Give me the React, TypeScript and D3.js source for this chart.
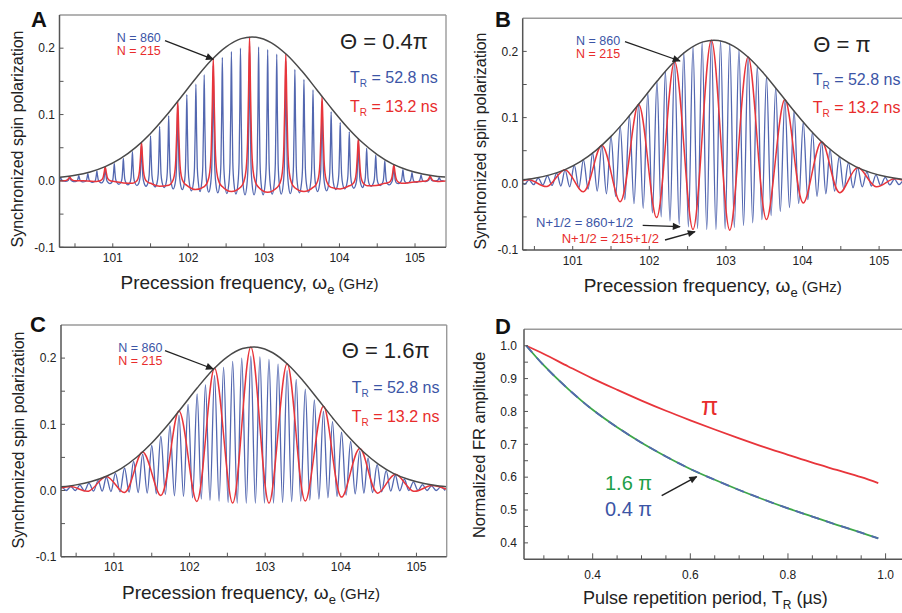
import React from "react";
import * as d3 from "d3";

// ---------------- data ----------------
const freqTickLabels = [101, 102, 103, 104, 105];
const freqTicks = [100.5, 101, 101.5, 102, 102.5, 103, 103.5, 104, 104.5, 105];
const polTickLabels = [-0.1, 0.0, 0.1, 0.2];
const polTicks = [-0.1, -0.05, 0, 0.05, 0.1, 0.15, 0.2];

const envelopeFreq = [100.3, 100.5, 100.7, 100.9, 101.1, 101.3, 101.5, 101.7, 101.9, 102.1, 102.3, 102.5, 102.7, 102.9, 103.1, 103.3, 103.5, 103.7, 103.9, 104.1, 104.3, 104.5, 104.7, 104.9, 105.1, 105.3, 105.4];
const envelopeVal = [0.0055, 0.0085, 0.0135, 0.0215, 0.0335, 0.0502, 0.0716, 0.0973, 0.1258, 0.1548, 0.1813, 0.202, 0.2144, 0.2165, 0.2081, 0.1904, 0.1659, 0.1375, 0.1085, 0.0814, 0.0582, 0.0396, 0.0256, 0.0165, 0.0105, 0.0068, 0.0058];

// N = 860 (T_R = 52.8 ns) comb
const bluePeakFreq = [100.31, 100.43, 100.55, 100.67, 100.79, 100.9, 101.02, 101.14, 101.26, 101.38, 101.5, 101.62, 101.74, 101.86, 101.98, 102.1, 102.21, 102.33, 102.45, 102.57, 102.69, 102.81, 102.93, 103.05, 103.17, 103.29, 103.41, 103.53, 103.65, 103.77, 103.89, 104.01, 104.13, 104.25, 104.36, 104.48, 104.6, 104.72, 104.84, 104.96, 105.08, 105.2, 105.32];
const bluePeakSharp = [0.005, 0.006, 0.008, 0.011, 0.015, 0.02, 0.026, 0.034, 0.044, 0.055, 0.068, 0.082, 0.098, 0.114, 0.13, 0.146, 0.16, 0.174, 0.186, 0.195, 0.2, 0.203, 0.202, 0.198, 0.191, 0.181, 0.168, 0.153, 0.137, 0.12, 0.104, 0.088, 0.074, 0.06, 0.049, 0.039, 0.03, 0.023, 0.017, 0.013, 0.009, 0.007, 0.005];
const bluePeakFull = [0.005, 0.006, 0.0085, 0.012, 0.016, 0.021, 0.028, 0.0365, 0.0465, 0.058, 0.0716, 0.0866, 0.103, 0.12, 0.1375, 0.155, 0.17, 0.185, 0.198, 0.2075, 0.214, 0.217, 0.216, 0.211, 0.203, 0.1915, 0.1776, 0.162, 0.145, 0.127, 0.11, 0.093, 0.078, 0.064, 0.052, 0.041, 0.032, 0.0245, 0.018, 0.0135, 0.0098, 0.007, 0.005];
const blueTroughA = [0.0, -0.0005, -0.001, -0.0015, -0.002, -0.003, -0.004, -0.005, -0.006, -0.007, -0.008, -0.009, -0.01, -0.012, -0.013, -0.015, -0.016, -0.017, -0.018, -0.019, -0.02, -0.021, -0.021, -0.021, -0.02, -0.02, -0.019, -0.018, -0.017, -0.016, -0.015, -0.013, -0.012, -0.011, -0.01, -0.008, -0.007, -0.006, -0.004, -0.003, -0.002, -0.001, 0.0, 0.0];
const blueTroughB = [-0.0005, -0.001, -0.0013, -0.0018, -0.0025, -0.0033, -0.0045, -0.006, -0.008, -0.011, -0.015, -0.019, -0.024, -0.03, -0.037, -0.044, -0.05, -0.056, -0.061, -0.065, -0.0675, -0.069, -0.069, -0.068, -0.066, -0.063, -0.059, -0.054, -0.048, -0.042, -0.036, -0.03, -0.024, -0.019, -0.015, -0.011, -0.008, -0.006, -0.0045, -0.0033, -0.0024, -0.0017, -0.0012, -0.0008];
const blueTroughC = [0.0, 0.0, 0.0, -0.0005, -0.001, -0.001, -0.0015, -0.002, -0.0025, -0.003, -0.004, -0.005, -0.006, -0.008, -0.009, -0.011, -0.013, -0.015, -0.016, -0.018, -0.019, -0.019, -0.019, -0.019, -0.019, -0.018, -0.017, -0.016, -0.0145, -0.013, -0.011, -0.009, -0.007, -0.005, -0.004, -0.003, -0.002, -0.001, -0.0005, 0.0, 0.0, 0.0, 0.0, 0.0];

// N = 215 (T_R = 13.2 ns) comb
const redPeakFreq = [100.43, 100.9, 101.38, 101.86, 102.33, 102.81, 103.29, 103.77, 104.25, 104.72, 105.2];
const redPeakVal = [0.006, 0.0213, 0.0582, 0.12, 0.1848, 0.2169, 0.1915, 0.1272, 0.0636, 0.0245, 0.0075];
const redTroughA = [0.0, 0.0, -0.003, -0.008, -0.013, -0.016, -0.017, -0.016, -0.012, -0.007, -0.002, 0.0];
const redTroughB = [-0.001, -0.004, -0.012, -0.027, -0.051, -0.069, -0.07, -0.054, -0.029, -0.0135, -0.0045, -0.001];
const redTroughC = [0.0, -0.001, -0.003, -0.0075, -0.0165, -0.019, -0.019, -0.016, -0.01, -0.004, -0.001, 0.0];

// Panel D
const periodTickLabels = [0.4, 0.6, 0.8, 1.0];
const periodTicks = [0.3, 0.35, 0.4, 0.45, 0.5, 0.55, 0.6, 0.65, 0.7, 0.75, 0.8, 0.85, 0.9, 0.95, 1.0];
const ampTickLabels = [0.4, 0.5, 0.6, 0.7, 0.8, 0.9, 1.0];
const ampTicks = [0.4, 0.45, 0.5, 0.55, 0.6, 0.65, 0.7, 0.75, 0.8, 0.85, 0.9, 0.95, 1.0];
const periodT = [0.264, 0.3, 0.35, 0.4, 0.45, 0.5, 0.55, 0.6, 0.65, 0.7, 0.75, 0.8, 0.85, 0.9, 0.95, 0.985];
const ampPi = [1.0, 0.975, 0.937, 0.9, 0.866, 0.833, 0.802, 0.773, 0.745, 0.718, 0.692, 0.668, 0.644, 0.622, 0.6, 0.582];
const amp16Pi = [1.0, 0.94, 0.868, 0.805, 0.752, 0.705, 0.663, 0.625, 0.592, 0.561, 0.532, 0.505, 0.48, 0.455, 0.431, 0.414];
const amp04Pi = [1.0, 0.94, 0.868, 0.805, 0.752, 0.705, 0.663, 0.625, 0.592, 0.561, 0.532, 0.505, 0.48, 0.455, 0.431, 0.414];

// ---------------- styles ----------------
const FONT = "'Liberation Sans', Arial, Helvetica, sans-serif";
const BLUE = "#5367b0";
const RED = "#e8353b";
const BLUE_TXT = "#3c55a6";
const RED_TXT = "#e82c2c";
const GREEN = "#3da64a";
const GREEN_TXT = "#1d9e48";
const ENV = "#4a4a4a";
const AXIS = "#555";
const FRAME = "#9a9a9a";
const TXT = "#222";

// spike shapes (pixel offset, fraction of peak height above local base)
const SPIKE_BLUE: [number, number][] = [[-2.6, 0.07], [-1.4, 0.22], [-0.6, 0.62], [0, 1], [0.6, 0.62], [1.4, 0.22], [2.6, 0.07]];
const SPIKE_RED: [number, number][] = [[-9, 0.03], [-6, 0.06], [-3.5, 0.14], [-2, 0.32], [-1, 0.64], [0, 1], [1, 0.64], [2, 0.32], [3.5, 0.14], [6, 0.06], [9, 0.03]];

type Scale = d3.ScaleLinear<number, number>;
type Pt = [number, number];

function troughFreqs(peaks: number[]): number[] {
  const n = peaks.length;
  const out = [peaks[0] - (peaks[1] - peaks[0]) / 2];
  for (let i = 0; i < n - 1; i++) out.push((peaks[i] + peaks[i + 1]) / 2);
  out.push(peaks[n - 1] + (peaks[n - 1] - peaks[n - 2]) / 2);
  return out;
}

function spikePath(x: Scale, y: Scale, pf: number[], pv: number[], tv: number[], kernel: [number, number][]) {
  const tf = troughFreqs(pf);
  const pts: Pt[] = [];
  for (let i = 0; i < pf.length; i++) {
    pts.push([x(tf[i]), y(tv[i])]);
    const base = (tv[i] + tv[i + 1]) / 2;
    const cx = x(pf[i]);
    for (const [dx, f] of kernel) pts.push([cx + dx, y(base + f * (pv[i] - base))]);
  }
  pts.push([x(tf[pf.length]), y(tv[pf.length])]);
  return d3.line().curve(d3.curveMonotoneX)(pts) || "";
}

function wavePath(x: Scale, y: Scale, pf: number[], pv: number[], tv: number[]) {
  const tf = troughFreqs(pf);
  const pts: Pt[] = [];
  for (let i = 0; i < pf.length; i++) {
    pts.push([x(tf[i]), y(tv[i])]);
    pts.push([x(pf[i]), y(pv[i])]);
  }
  pts.push([x(tf[pf.length]), y(tv[pf.length])]);
  return d3.line().curve(d3.curveCatmullRom.alpha(0.5))(pts) || "";
}

interface PanelCfg {
  id: string;
  letter: string;
  letterPos: Pt;
  x0: number; x1: number; y0: number; y1: number;
  dom: [number, number];
  ytitleCy: number;
  theta: string;
  thetaPos: Pt;
  trPos: [number, number, number];
  nPos: [number, number, number];
  nArrow: [number, number, number, number];
  mode: "spike" | "wave";
  bluePeak: number[];
  blueTrough: number[];
  redTrough: number[];
}

function SpectrumPanel({ c }: { c: PanelCfg }) {
  const x = d3.scaleLinear().domain(c.dom).range([c.x0, c.x1]);
  const y = d3.scaleLinear().domain([-0.1, 0.25]).range([c.y1, c.y0]);
  const env = d3.line<number>().x((_, i) => x(envelopeFreq[i])).y((v) => y(v)).curve(d3.curveCatmullRom.alpha(0.5))(envelopeVal) || "";
  const blue = c.mode === "spike"
    ? spikePath(x, y, bluePeakFreq, c.bluePeak, c.blueTrough, SPIKE_BLUE)
    : wavePath(x, y, bluePeakFreq, c.bluePeak, c.blueTrough);
  const red = c.mode === "spike"
    ? spikePath(x, y, redPeakFreq, redPeakVal, c.redTrough, SPIKE_RED)
    : wavePath(x, y, redPeakFreq, redPeakVal, c.redTrough);
  const clipId = `clip-${c.id}`;
  return (
    <g>
      <defs>
        <clipPath id={clipId}>
          <rect x={c.x0} y={c.y0} width={c.x1 - c.x0} height={c.y1 - c.y0} />
        </clipPath>
      </defs>
      <g clipPath={`url(#${clipId})`}>
        <path d={blue} fill="none" stroke={BLUE} strokeWidth={1.3} />
        <path d={red} fill="none" stroke={RED} strokeWidth={1.5} />
        <path d={env} fill="none" stroke={ENV} strokeWidth={1.5} />
      </g>
      <line x1={c.x0} x2={c.x1} y1={c.y0} y2={c.y0} stroke={FRAME} strokeWidth={1.4} />
      <line x1={c.x1} x2={c.x1} y1={c.y0} y2={c.y1} stroke={FRAME} strokeWidth={1.4} />
      <line x1={c.x0} x2={c.x1} y1={c.y1} y2={c.y1} stroke={AXIS} strokeWidth={1.5} />
      <line x1={c.x0} x2={c.x0} y1={c.y0} y2={c.y1} stroke={AXIS} strokeWidth={1.5} />
      {freqTicks.map((t) => (
        <line key={`xt${t}`} x1={x(t)} x2={x(t)} y1={c.y1} y2={c.y1 - 4} stroke={AXIS} strokeWidth={1} />
      ))}
      {polTicks.map((t) => (
        <line key={`yt${t}`} x1={c.x0} x2={c.x0 + 4} y1={y(t)} y2={y(t)} stroke={AXIS} strokeWidth={1} />
      ))}
      {freqTickLabels.map((t) => (
        <text key={`xl${t}`} x={x(t)} y={c.y1 + 14.5} textAnchor="middle" fontSize={12} fill={TXT}>{t}</text>
      ))}
      {polTickLabels.map((t) => (
        <text key={`yl${t}`} x={c.x0 - 4.5} y={y(t) + 4.3} textAnchor="end" fontSize={12} fill={TXT}>{t.toFixed(1)}</text>
      ))}
      <text x={c.x0 + 61} y={c.y1 + 42} fontSize={19} fill={TXT}>
        Precession frequency, ω<tspan fontSize={13} dy={5}>e</tspan><tspan fontSize={15} dy={-5}> (GHz)</tspan>
      </text>
      <text transform={`translate(${c.x0 - 37},${c.ytitleCy}) rotate(-90)`} textAnchor="middle" fontSize={16} fill={TXT}>
        Synchronized spin polarization
      </text>
      <text x={c.letterPos[0]} y={c.letterPos[1]} fontSize={22} fontWeight="bold" fill="#111">{c.letter}</text>
      <text x={c.thetaPos[0]} y={c.thetaPos[1]} fontSize={22} fill={TXT}>{c.theta}</text>
      <text x={c.trPos[0]} y={c.trPos[1]} fontSize={16} fill={BLUE_TXT}>
        T<tspan fontSize={10} dy={4}>R</tspan><tspan dy={-4}> = 52.8 ns</tspan>
      </text>
      <text x={c.trPos[0]} y={c.trPos[2]} fontSize={16} fill={RED_TXT}>
        T<tspan fontSize={10} dy={4}>R</tspan><tspan dy={-4}> = 13.2 ns</tspan>
      </text>
      <text x={c.nPos[0]} y={c.nPos[1]} fontSize={12.5} fill={BLUE_TXT}>N = 860</text>
      <text x={c.nPos[0]} y={c.nPos[2]} fontSize={12.5} fill={RED_TXT}>N = 215</text>
      <line x1={c.nArrow[0]} y1={c.nArrow[1]} x2={c.nArrow[2]} y2={c.nArrow[3]} stroke="#222" strokeWidth={1.3} markerEnd="url(#arrowhead)" />
    </g>
  );
}

function PanelD() {
  const x0 = 524, y0 = 329.3, y1 = 559.3;
  const x = d3.scaleLinear().domain([0.2593, 1.05]).range([x0, 910]);
  const y = d3.scaleLinear().domain([0.35, 1.05]).range([y1, y0]);
  const x1 = x(1.05);
  const mk = (vals: number[]) => d3.line<number>().x((_, i) => x(periodT[i])).y((v) => y(v)).curve(d3.curveCatmullRom.alpha(0.5))(vals) || "";
  return (
    <g>
      <path d={mk(ampPi)} fill="none" stroke={RED} strokeWidth={1.8} />
      <path d={mk(amp16Pi)} fill="none" stroke={GREEN} strokeWidth={1.8} />
      <path d={mk(amp04Pi)} fill="none" stroke={BLUE} strokeWidth={1.8} strokeDasharray="9 7" />
      <line x1={x0} x2={x1} y1={y0} y2={y0} stroke={FRAME} strokeWidth={1.4} />
      <line x1={x0} x2={x1} y1={y1} y2={y1} stroke={AXIS} strokeWidth={1.5} />
      <line x1={x0} x2={x0} y1={y0} y2={y1} stroke={AXIS} strokeWidth={1.5} />
      {periodTicks.map((t) => (
        <line key={`dx${t}`} x1={x(t)} x2={x(t)} y1={y1} y2={y1 - (periodTickLabels.includes(t) ? 6 : 4)} stroke={AXIS} strokeWidth={1} />
      ))}
      {ampTicks.map((t) => (
        <line key={`dy${t}`} x1={x0} x2={x0 + 4} y1={y(t)} y2={y(t)} stroke={AXIS} strokeWidth={1} />
      ))}
      {periodTickLabels.map((t) => (
        <text key={`dxl${t}`} x={x(t)} y={y1 + 20} textAnchor="middle" fontSize={12} fill={TXT}>{t.toFixed(1)}</text>
      ))}
      {ampTickLabels.map((t) => (
        <text key={`dyl${t}`} x={x0 - 7} y={y(t) + 4.3} textAnchor="end" fontSize={12} fill={TXT}>{t.toFixed(1)}</text>
      ))}
      <text x={583} y={604} fontSize={18} fill={TXT}>
        Pulse repetition period, T<tspan fontSize={12} dy={5}>R</tspan><tspan dy={-5}> (µs)</tspan>
      </text>
      <text transform={`translate(485,445) rotate(-90)`} textAnchor="middle" fontSize={16.5} fill={TXT}>Normalized FR amplitude</text>
      <text x={495} y={333.5} fontSize={22} fontWeight="bold" fill="#111">D</text>
      <text x={701} y={415} fontSize={25} fill={RED_TXT}>π</text>
      <text x={605} y={490} fontSize={20} fill={GREEN_TXT}>1.6 π</text>
      <text x={605} y={516} fontSize={20} fill={BLUE_TXT}>0.4 π</text>
      <line x1={661.7} y1={495.7} x2={696.7} y2={476.7} stroke="#222" strokeWidth={1.5} markerEnd="url(#arrowhead)" />
    </g>
  );
}

const panelA: PanelCfg = {
  id: "A", letter: "A", letterPos: [31, 27.3],
  x0: 59.5, x1: 446, y0: 15, y1: 247.3, dom: [100.295, 105.41], ytitleCy: 139,
  theta: "Θ = 0.4π", thetaPos: [340, 49], trPos: [350, 83, 111.7], nPos: [116.7, 41.7, 55],
  nArrow: [165, 40.7, 213.3, 59.3], mode: "spike",
  bluePeak: bluePeakSharp, blueTrough: blueTroughA, redTrough: redTroughA,
};
const panelB: PanelCfg = {
  id: "B", letter: "B", letterPos: [495, 26.7],
  x0: 522.7, x1: 910.5, y0: 18.3, y1: 250, dom: [100.347, 105.41], ytitleCy: 141,
  theta: "Θ = π", thetaPos: [813.3, 51.7], trPos: [812.7, 85, 113.3], nPos: [576, 45, 58.3],
  nArrow: [625, 41.7, 680, 61], mode: "wave",
  bluePeak: bluePeakFull, blueTrough: blueTroughB, redTrough: redTroughB,
};
const panelC: PanelCfg = {
  id: "C", letter: "C", letterPos: [30, 332.3],
  x0: 61, x1: 446.7, y0: 325, y1: 556.7, dom: [100.3, 105.4], ytitleCy: 440,
  theta: "Θ = 1.6π", thetaPos: [341.7, 358.3], trPos: [351.7, 393.3, 421.7], nPos: [118.3, 351.7, 365],
  nArrow: [165, 350.7, 213.3, 369], mode: "wave",
  bluePeak: bluePeakSharp, blueTrough: blueTroughC, redTrough: redTroughC,
};

export default function App() {
  return (
    <svg width={902} height={613} style={{ position: "absolute", left: 0, top: 0, background: "#fff" }} fontFamily={FONT}>
      <defs>
        <marker id="arrowhead" viewBox="0 0 10 10" refX={9} refY={5} markerWidth={10} markerHeight={8} markerUnits="userSpaceOnUse" orient="auto">
          <path d="M0,0.5 L10,5 L0,9.5 z" fill="#222" />
        </marker>
      </defs>
      <rect x={0} y={0} width={902} height={613} fill="#fff" />
      <SpectrumPanel c={panelA} />
      <SpectrumPanel c={panelB} />
      <SpectrumPanel c={panelC} />
      <PanelD />
      <text x={536} y={226.7} fontSize={13} fill={BLUE_TXT}>N+1/2 = 860+1/2</text>
      <text x={561.7} y={243.3} fontSize={13} fill={RED_TXT}>N+1/2 = 215+1/2</text>
      <line x1={642.7} y1={225.3} x2={680} y2={226.7} stroke="#222" strokeWidth={1.3} markerEnd="url(#arrowhead)" />
      <line x1={665} y1={240} x2={695} y2={231.7} stroke="#222" strokeWidth={1.3} markerEnd="url(#arrowhead)" />
    </svg>
  );
}
